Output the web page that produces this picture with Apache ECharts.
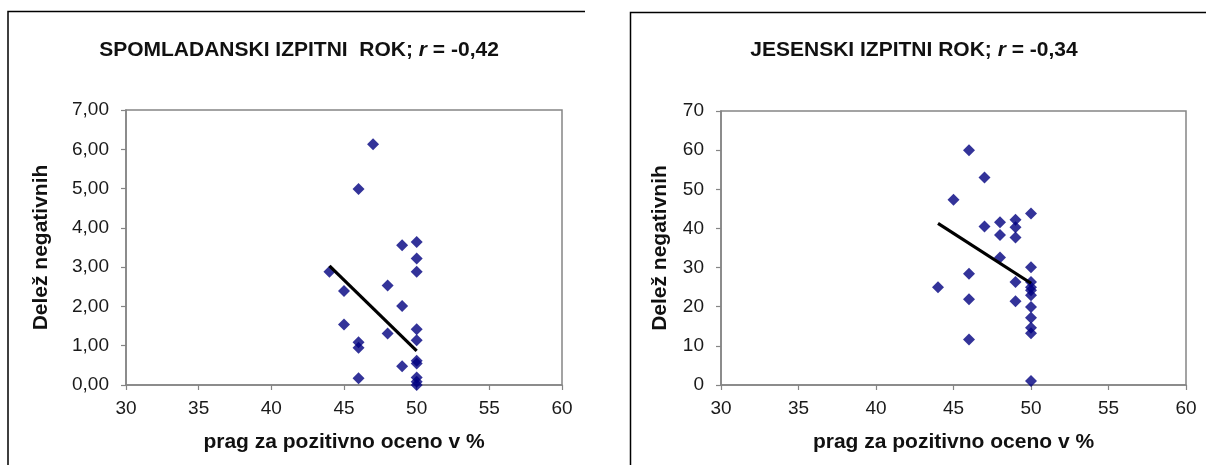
<!DOCTYPE html>
<html><head><meta charset="utf-8">
<script src="https://cdn.jsdelivr.net/npm/echarts@6/dist/echarts.min.js"></script>
<style>html,body{margin:0;padding:0;background:#fff}#c{width:1206px;height:465px}</style>
</head><body><div id="c"></div>
<script>
// Left chart: spring exam period
const springX = [47,46,49,50,50,50,44,45,48,49,45,48,50,50,46,46,50,50,49,46,50,50,50];
const springY = [6.13,4.99,3.56,3.64,3.22,2.88,2.88,2.39,2.53,2.01,1.54,1.31,1.42,1.14,1.09,0.95,0.62,0.55,0.48,0.17,0.19,0.08,0.0];
const springTrend = [[44,3.03],[50,0.87]];
// Right chart: autumn exam period
const autumnX = [46,47,45,50,47,48,48,49,49,49,48,50,46,44,49,50,50,50,50,46,49,50,50,50,50,46,50];
const autumnY = [60.0,53.0,47.3,43.8,40.5,41.6,38.3,42.2,40.3,37.7,32.6,30.1,28.4,25.0,26.3,26.3,25.0,24.2,22.9,21.9,21.4,19.9,17.2,14.6,13.2,11.6,1.0];
const autumnTrend = [[44,41.3],[50,26.0]];
const xTicks = [30,35,40,45,50,55,60];
const leftYTicks = [0,1,2,3,4,5,6,7];
const rightYTicks = [0,10,20,30,40,50,60,70];
const titles = ['SPOMLADANSKI IZPITNI  ROK; ', 'JESENSKI IZPITNI ROK; '];
const rValues = ['-0,42', '-0,34'];
const xName = 'prag za pozitivno oceno v %';
const yName = 'Delež negativnih';

const pair = (xs, ys) => xs.map((x, i) => [x, ys[i]]);
const font = 'Liberation Sans, Arial, sans-serif';
const grey = '#858585';

function xAxis(gi) {
  return {
    gridIndex: gi, type: 'value', min: xTicks[0], max: xTicks[xTicks.length-1], interval: xTicks[1]-xTicks[0],
    axisLine: {show: true, onZero: false, lineStyle: {color: grey, width: 1.5}},
    axisTick: {show: true, inside: false, length: 5, lineStyle: {color: grey, width: 1.2}},
    splitLine: {show: false},
    axisLabel: {color: '#1a1a1a', fontSize: 19, fontFamily: font, margin: 14},
    name: xName, nameLocation: 'middle', nameGap: 47,
    nameTextStyle: {color: '#111', fontSize: 21, fontWeight: 'bold', fontFamily: font}
  };
}
function yAxis(gi, ticks, fmt) {
  return {
    gridIndex: gi, type: 'value', min: ticks[0], max: ticks[ticks.length-1], interval: ticks[1]-ticks[0],
    axisLine: {show: true, onZero: false, lineStyle: {color: grey, width: 1.5}},
    axisTick: {show: true, inside: false, length: 5, lineStyle: {color: grey, width: 1.2}},
    splitLine: {show: false},
    axisLabel: {color: '#1a1a1a', fontSize: 19, fontFamily: font, margin: 17, formatter: fmt},
    name: yName, nameLocation: 'middle', nameGap: gi === 0 ? 74 : 50, nameRotate: 90,
    nameTextStyle: {color: '#111', fontSize: 21, fontWeight: 'bold', fontFamily: font}
  };
}
function title(i, cx) {
  return {
    text: '{a|' + titles[i] + '}{i|r}{a| = ' + rValues[i] + '}',
    left: cx, top: 35, textAlign: 'center',
    textStyle: {rich: {
      a: {fontSize: 21, fontWeight: 'bold', fontFamily: font, color: '#111'},
      i: {fontSize: 21, fontWeight: 'bold', fontStyle: 'italic', fontFamily: font, color: '#111'}
    }}
  };
}
const diamond = {type: 'scatter', symbol: 'diamond', symbolSize: 12, itemStyle: {color: '#000080'}, z: 3};
const trend = {type: 'line', symbol: 'none', lineStyle: {color: '#000', width: 3.2}, z: 4, silent: true};

const chart = echarts.init(document.getElementById('c'), null, {renderer: 'canvas'});
chart.setOption({
  animation: false,
  backgroundColor: '#fff',
  title: [title(0, 294), title(1, 909)],
  grid: [
    {left: 126, top: 110, width: 436, height: 275, show: true, borderColor: grey, borderWidth: 1.5, backgroundColor: 'transparent'},
    {left: 721, top: 111, width: 465, height: 274, show: true, borderColor: grey, borderWidth: 1.5, backgroundColor: 'transparent'}
  ],
  xAxis: [xAxis(0), xAxis(1)],
  yAxis: [
    yAxis(0, leftYTicks, v => v.toFixed(2).replace('.', ',')),
    yAxis(1, rightYTicks, v => String(v))
  ],
  series: [
    Object.assign({}, diamond, {xAxisIndex: 0, yAxisIndex: 0, data: pair(springX, springY)}),
    Object.assign({}, trend, {xAxisIndex: 0, yAxisIndex: 0, data: springTrend}),
    Object.assign({}, diamond, {xAxisIndex: 1, yAxisIndex: 1, data: pair(autumnX, autumnY)}),
    Object.assign({}, trend, {xAxisIndex: 1, yAxisIndex: 1, data: autumnTrend})
  ],
  graphic: [
    {type: 'polyline', shape: {points: [[8, 465], [8, 11.5], [585, 11.5]]}, style: {stroke: '#000', lineWidth: 1.5, fill: null}},
    {type: 'polyline', shape: {points: [[630.5, 465], [630.5, 12.5], [1206, 12.5]]}, style: {stroke: '#000', lineWidth: 1.5, fill: null}}
  ]
});
</script></body></html>
